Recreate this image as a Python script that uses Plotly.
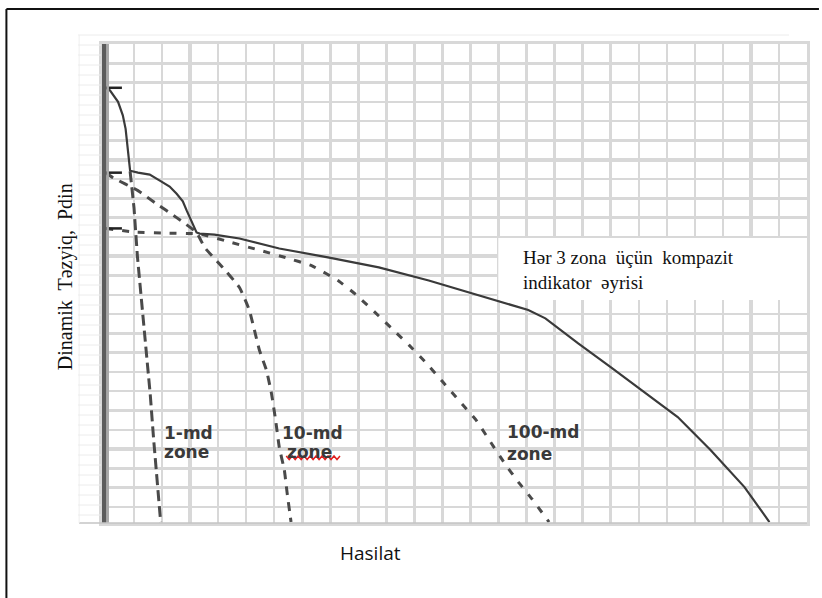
import plotly.graph_objects as go

# ---------------- data (grid units) ----------------
zone_names = ["1-md", "10-md", "100-md"]
zone_pressure = [21.73, 17.33, 14.44]          # static pressure of each zone

comp_q = [0.0, 0.14, 0.43, 0.60, 0.70, 0.76, 0.82, 0.86, 1.14, 1.56, 1.92, 2.27, 2.52,
          2.74, 2.88, 3.05, 3.23, 3.34, 3.87, 4.76, 6.18, 7.96, 9.73, 11.51, 13.29,
          15.06, 15.67, 16.84, 18.01, 19.22, 20.39, 21.56, 22.77, 23.66]
comp_p = [21.73, 21.6, 21.0, 20.3, 19.6, 18.9, 18.1, 17.43, 17.33, 17.23, 16.92, 16.61, 16.24,
          15.85, 15.36, 14.85, 14.23, 14.17, 14.12, 13.92, 13.40, 12.93, 12.42, 11.74, 10.99,
          10.21, 9.78, 8.48, 7.24, 5.95, 4.66, 2.95, 1.03, -0.78]

md1_q = [0.86, 1.0, 1.12, 1.28, 1.45, 1.58, 1.70, 1.84, 1.95]
md1_p = [17.4, 15.5, 13.0, 10.5, 8.0, 5.8, 3.5, 1.2, -0.78]

md10_q = [0.0, 0.25, 1.14, 1.74, 2.52, 3.23, 3.52, 4.16, 4.76, 5.11, 5.47, 5.72, 5.90,
          6.05, 6.18, 6.36, 6.46, 6.60]
md10_p = [17.33, 17.07, 16.40, 15.78, 15.00, 14.23, 13.45, 12.42, 11.38, 10.21, 8.14, 7.1, 5.9,
          4.5, 3.1, 1.92, 0.73, -0.78]

md100_q = [0.0, 1.03, 2.1, 3.34, 4.5, 5.5, 6.4, 7.35, 8.31, 8.92, 9.73, 10.3, 10.8, 11.4,
           12.0, 12.6, 13.2, 13.7, 14.2, 14.7, 15.2, 15.8]
md100_p = [14.44, 14.25, 14.2, 14.15, 13.7, 13.3, 12.93, 12.5, 11.7, 11.0, 9.9, 9.1, 8.4, 7.5,
           6.5, 5.5, 4.5, 3.4, 2.3, 1.3, 0.4, -0.78]

# ---------------- geometry helpers ----------------
W, H = 822, 598
L, R, T, B = 102, 810, 44, 523
XR = [-0.142, 25]
YR = [-0.83, 24]


def X(px):
    return XR[0] + (px - L) / (R - L) * (XR[1] - XR[0])


def Y(py):
    return YR[0] + (B - py) / (B - T) * (YR[1] - YR[0])


def PX(px):
    return (px - L) / (R - L)


def PY(py):
    return (B - py) / (B - T)


fig = go.Figure()

dash_col = "#4a4a4a"
fig.add_trace(go.Scatter(x=md1_q, y=md1_p, mode="lines",
                         line=dict(color=dash_col, width=3, dash="11px,5px")))
fig.add_trace(go.Scatter(x=md10_q, y=md10_p, mode="lines",
                         line=dict(color=dash_col, width=3, dash="9px,7px", shape="spline", smoothing=0.4)))
fig.add_trace(go.Scatter(x=md100_q, y=md100_p, mode="lines",
                         line=dict(color=dash_col, width=3, dash="7px,9px", shape="spline", smoothing=0.4)))
fig.add_trace(go.Scatter(x=comp_q, y=comp_p, mode="lines",
                         line=dict(color="#3a3a3a", width=2.2)))

# short marks on the pressure axis at each zone pressure
for p in zone_pressure:
    fig.add_trace(go.Scatter(x=[XR[0], X(122)], y=[p, p], mode="lines",
                             line=dict(color="#222222", width=2.5)))

shapes = []
# white box behind composite label
shapes.append(dict(type="rect", xref="x", yref="y", layer="between",
                   x0=X(500), x1=X(812), y0=Y(300), y1=Y(238),
                   fillcolor="white", line=dict(width=0)))
# dark pressure axis bar
shapes.append(dict(type="rect", xref="x", yref="paper", layer="above",
                   x0=XR[0], x1=X(106.5), y0=0, y1=1,
                   fillcolor="#5c5c5c", line=dict(width=0)))
shapes.append(dict(type="rect", xref="x", yref="paper", layer="above",
                   x0=X(106.5), x1=X(109), y0=0, y1=1,
                   fillcolor="#a8a8a8", line=dict(width=0)))
# bottom line extending left of axis
shapes.append(dict(type="line", xref="paper", yref="paper",
                   x0=PX(79), x1=PX(810), y0=0, y1=0,
                   line=dict(color="#c4c4c4", width=1.5)))
# faint scan remnants
shapes.append(dict(type="line", xref="paper", yref="paper",
                   x0=PX(78), x1=PX(792), y0=PY(35), y1=PY(35),
                   line=dict(color="#ececec", width=1)))
shapes.append(dict(type="line", xref="paper", yref="paper",
                   x0=PX(79), x1=PX(79), y0=PY(35), y1=0,
                   line=dict(color="#efefef", width=1)))
py = 45
while py < 520:
    shapes.append(dict(type="line", xref="paper", yref="paper",
                       x0=PX(78), x1=PX(101), y0=PY(py), y1=PY(py),
                       line=dict(color="#ececec", width=1)))
    py += 10
# outer frame
shapes.append(dict(type="line", xref="paper", yref="paper",
                   x0=PX(6), x1=PX(822), y0=PY(9), y1=PY(9),
                   line=dict(color="#111111", width=2)))
shapes.append(dict(type="line", xref="paper", yref="paper",
                   x0=PX(6), x1=PX(6), y0=PY(9), y1=PY(598),
                   line=dict(color="#111111", width=2)))
# red spell-check squiggle under "zone"
pts = []
xx = 287
k = 0
while xx <= 343:
    pts.append((X(xx), Y(456 if k % 2 == 0 else 459.5)))
    xx += 3
    k += 1
path = "M " + " L ".join(f"{a:.4f},{b:.4f}" for a, b in pts)
shapes.append(dict(type="path", xref="x", yref="y", path=path, layer="above",
                   line=dict(color="#e02020", width=1.5)))

lab_font = dict(family="DejaVu Sans", size=17, color="#3a3a3a", weight="bold")
ann = []
ann.append(dict(x=X(162), y=Y(433), text=zone_names[0], xanchor="left", yanchor="middle", font=lab_font))
ann.append(dict(x=X(162), y=Y(452), text="zone", xanchor="left", yanchor="middle", font=lab_font))
ann.append(dict(x=X(281), y=Y(433), text=zone_names[1], xanchor="left", yanchor="middle", font=lab_font))
ann.append(dict(x=X(286), y=Y(452), text="zone", xanchor="left", yanchor="middle", font=lab_font))
ann.append(dict(x=X(507), y=Y(432), text=zone_names[2], xanchor="left", yanchor="middle", font=lab_font))
ann.append(dict(x=X(507), y=Y(454), text="zone", xanchor="left", yanchor="middle", font=lab_font))
ann.append(dict(x=X(523), y=Y(270),
                text="Hər 3 zona\u00a0 üçün\u00a0 kompazit<br>indikator\u00a0 əyrisi",
                xanchor="left", yanchor="middle", align="left",
                font=dict(family="Liberation Serif", size=19, color="#111111")))
ann.append(dict(x=PX(65), y=PY(277), xref="paper", yref="paper",
                text="Dinamik\u00a0 Təzyiq,\u00a0 Pdin", textangle=-90,
                xanchor="center", yanchor="middle",
                font=dict(family="Liberation Serif", size=20, color="#111111")))
ann.append(dict(x=PX(372), y=PY(553), xref="paper", yref="paper",
                text="Hasilat", xanchor="center", yanchor="middle",
                font=dict(family="Open Sans", size=19, color="#111111")))
for a in ann:
    a.setdefault("xref", "x")
    a.setdefault("yref", "y")
    a["showarrow"] = False

grid_col = "#d8d8d8"
fig.update_layout(
    width=W, height=H,
    margin=dict(l=L, r=W - R, t=T, b=H - B),
    paper_bgcolor="white", plot_bgcolor="white",
    showlegend=False,
    shapes=shapes, annotations=ann,
    xaxis=dict(range=XR, tick0=3, dtick=5, showgrid=True, gridcolor=grid_col, gridwidth=3.5,
               minor=dict(dtick=1, tick0=0, showgrid=True, gridcolor=grid_col, gridwidth=2.5),
               showticklabels=False, ticks="", zeroline=False,
               showline=True, mirror=True, linecolor=grid_col, linewidth=3),
    yaxis=dict(range=YR, tick0=3, dtick=5, showgrid=True, gridcolor=grid_col, gridwidth=3.5,
               minor=dict(dtick=1, tick0=0, showgrid=True, gridcolor=grid_col, gridwidth=2.5),
               showticklabels=False, ticks="", zeroline=False,
               showline=True, mirror=True, linecolor=grid_col, linewidth=3),
)

fig.write_html("out.html", config={"displayModeBar": False, "staticPlot": True},
               post_script="document.body.style.margin='0';document.body.style.overflow='hidden';")
